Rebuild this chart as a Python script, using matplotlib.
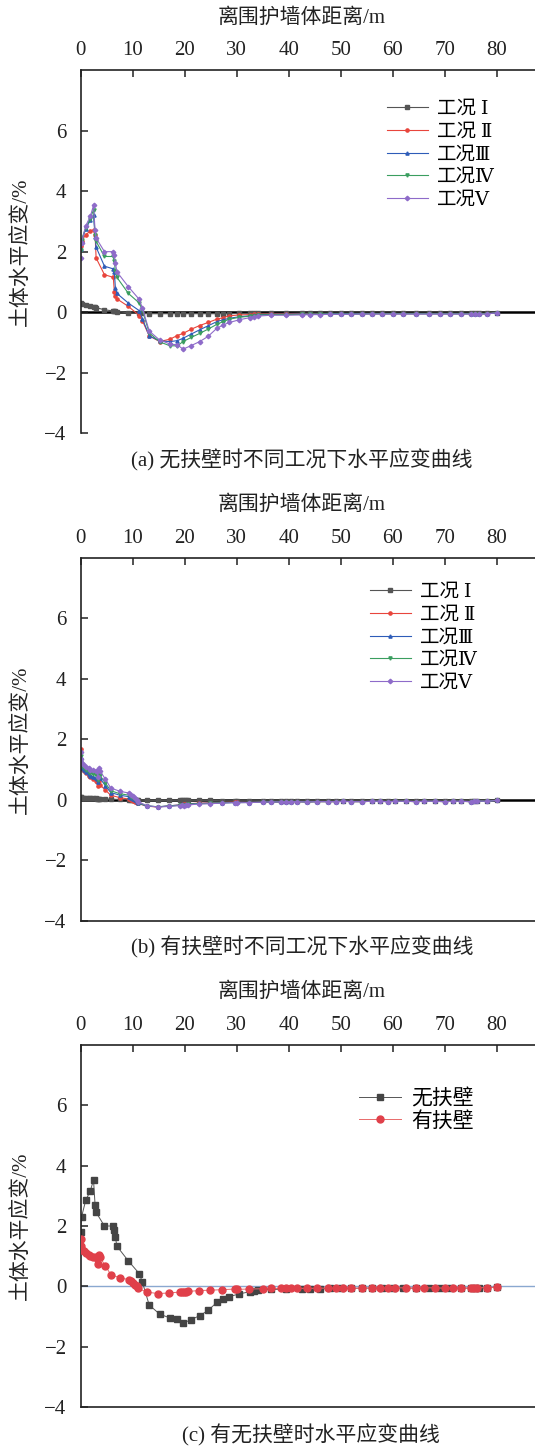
import numpy as np
import matplotlib
matplotlib.use('Agg')
import matplotlib.pyplot as plt

plt.rcParams['font.family'] = ['Liberation Serif', 'Noto Sans CJK SC', 'DejaVu Sans']
plt.rcParams['axes.unicode_minus'] = True

# 无扶壁 (a) 节点距离与各工况水平应变
xa = [0, 0.2, 1.0, 1.9, 2.5, 2.8, 3.0, 4.6, 6.3, 6.5, 6.7, 7.0, 9.2, 11.3, 11.9, 13.2, 15.2, 17.2,
      18.6, 19.7, 21.3, 22.9, 24.5, 26.2, 27.4, 28.6, 30.5, 32.5, 33.3, 34.0, 36.5, 39.5, 42.5,
      44.0, 46.0, 48.0, 50.0, 52.0, 54.0, 56.0, 58.0, 60.0, 62.0, 64.5, 67.0, 69.0, 71.0, 73.0,
      75.0, 75.8, 76.5, 78.0, 80.0]
a1 = [0.30, 0.28, 0.24, 0.20, 0.17, 0.16, 0.15, 0.08, 0.04, 0.03, 0.03, 0.02, -0.02, -0.04, -0.04,
      -0.05, -0.05, -0.05, -0.05, -0.05, -0.05, -0.05, -0.05, -0.05, -0.05, -0.05, -0.04, -0.04,
      -0.04, -0.04, -0.04, -0.04, -0.03, -0.03, -0.03, -0.03, -0.03, -0.03, -0.03, -0.03, -0.03,
      -0.03, -0.03, -0.03, -0.03, -0.03, -0.03, -0.03, -0.03, -0.03, -0.03, -0.03, -0.02]
a2 = [2.20, 2.35, 2.56, 2.68, 2.72, 2.55, 1.79, 1.24, 1.15, 0.68, 0.52, 0.44, 0.19, -0.11, -0.29,
      -0.78, -0.97, -0.89, -0.77, -0.70, -0.56, -0.44, -0.34, -0.23, -0.18, -0.12, -0.09, -0.08,
      -0.07, -0.07, -0.06, -0.06, -0.05, -0.05, -0.05, -0.05, -0.05, -0.05, -0.05, -0.05, -0.05,
      -0.05, -0.05, -0.05, -0.05, -0.05, -0.05, -0.05, -0.05, -0.05, -0.05, -0.05, -0.02]
a3 = [2.10, 2.35, 2.75, 3.05, 3.20, 2.50, 2.15, 1.52, 1.43, 1.32, 0.80, 0.62, 0.30, 0.05, -0.22,
      -0.78, -0.95, -0.97, -0.94, -0.86, -0.72, -0.58, -0.45, -0.31, -0.25, -0.20, -0.15, -0.12,
      -0.10, -0.09, -0.07, -0.07, -0.06, -0.06, -0.06, -0.05, -0.05, -0.05, -0.05, -0.05, -0.05,
      -0.05, -0.05, -0.05, -0.05, -0.05, -0.05, -0.05, -0.05, -0.06, -0.05, -0.05, -0.02]
a4 = [2.05, 2.40, 2.78, 3.09, 3.39, 2.55, 2.34, 1.84, 1.84, 1.68, 1.35, 1.15, 0.62, 0.30, 0.06,
      -0.68, -0.98, -1.11, -1.11, -0.97, -0.83, -0.70, -0.56, -0.40, -0.31, -0.23, -0.17, -0.13,
      -0.11, -0.10, -0.08, -0.08, -0.07, -0.07, -0.06, -0.06, -0.06, -0.06, -0.06, -0.05, -0.05,
      -0.05, -0.05, -0.05, -0.05, -0.05, -0.05, -0.05, -0.05, -0.06, -0.05, -0.05, -0.02]
a5 = [1.80, 2.30, 2.85, 3.17, 3.53, 2.70, 2.45, 2.00, 2.00, 1.88, 1.62, 1.33, 0.84, 0.42, 0.13,
      -0.62, -0.92, -1.05, -1.08, -1.22, -1.10, -0.97, -0.80, -0.53, -0.42, -0.34, -0.25, -0.18,
      -0.15, -0.13, -0.10, -0.10, -0.09, -0.08, -0.08, -0.07, -0.07, -0.07, -0.06, -0.06, -0.06,
      -0.06, -0.06, -0.06, -0.06, -0.06, -0.06, -0.06, -0.06, -0.07, -0.06, -0.06, -0.02]

# 有扶壁 (b)
xb = [0, 0.1, 0.3, 0.6, 1.1, 1.6, 1.9, 2.4, 2.9, 3.2, 3.3, 3.5, 3.7, 4.8, 5.8, 7.6, 9.4, 9.7, 10.1,
      10.5, 10.8, 11.0, 12.7, 14.9, 17.0, 19.1, 19.5, 19.9, 20.3, 20.7, 22.7, 24.8, 27.2, 29.6,
      30.0, 32.4, 35.0, 36.5, 38.5, 39.5, 40.5, 41.5, 43.5, 45.5, 47.5, 49.0, 50.5, 52.0, 54.0,
      56.0, 57.5, 59.0, 60.5, 62.5, 64.5, 66.0, 68.0, 70.0, 71.5, 73.0, 75.0, 75.6, 76.2, 78.0, 80.0]
tail_b = [-0.09, -0.08, -0.07, -0.07, -0.06, -0.06, -0.06, -0.07, -0.06, -0.06,
          -0.06, -0.05, -0.06, -0.06, -0.05, -0.05, -0.06, -0.05, -0.05, -0.06,
          -0.05, -0.05, -0.06, -0.05, -0.05, -0.06, -0.05, -0.04, -0.05, -0.02]
tail_b1 = [-0.03] * 29 + [-0.02]
b1 = [0.08, 0.08, 0.07, 0.07, 0.06, 0.06, 0.05, 0.05, 0.05, 0.04, 0.04, 0.04, 0.04, 0.03, 0.02,
      0.01, 0.00, 0.00, -0.01, -0.01, -0.01, -0.01, -0.02, -0.02, -0.02, -0.02, -0.02, -0.02,
      -0.02, -0.02, -0.02, -0.02, -0.03, -0.03, -0.03] + tail_b1
b2 = [1.68, 1.10, 1.02, 0.95, 0.88, 0.80, 0.74, 0.68, 0.62, 0.58, 0.45, 0.62, 0.50, 0.32, 0.15,
      0.07, 0.02, 0.00, -0.03, -0.06, -0.10, -0.12, -0.21, -0.24, -0.20, -0.17, -0.16, -0.15,
      -0.14, -0.13, -0.11, -0.10, -0.09, -0.08, -0.08] + tail_b
b3 = [1.40, 1.18, 1.05, 0.98, 0.92, 0.85, 0.80, 0.76, 0.73, 0.70, 0.58, 0.80, 0.72, 0.46, 0.24,
      0.15, 0.10, 0.07, 0.03, -0.01, -0.06, -0.10, -0.21, -0.23, -0.20, -0.17, -0.16, -0.16,
      -0.15, -0.14, -0.12, -0.11, -0.10, -0.09, -0.08] + tail_b
b4 = [1.45, 1.25, 1.12, 1.06, 1.00, 0.93, 0.88, 0.85, 0.83, 0.80, 0.65, 0.90, 0.82, 0.55, 0.30,
      0.20, 0.15, 0.10, 0.05, 0.01, -0.04, -0.09, -0.20, -0.23, -0.21, -0.18, -0.17, -0.17,
      -0.16, -0.15, -0.13, -0.12, -0.10, -0.09, -0.09] + tail_b
b5 = [1.57, 1.35, 1.21, 1.16, 1.10, 1.05, 0.99, 0.97, 0.96, 0.94, 0.75, 1.05, 0.96, 0.68, 0.39,
      0.28, 0.22, 0.17, 0.11, 0.06, 0.00, -0.06, -0.19, -0.24, -0.22, -0.19, -0.18, -0.19,
      -0.18, -0.17, -0.14, -0.13, -0.11, -0.09, -0.10] + tail_b

case_labels = ['工况 Ⅰ', '工况 Ⅱ', '工况Ⅲ', '工况Ⅳ', '工况Ⅴ']
case_colors = ['#555555', '#e8453c', '#2e5cb8', '#3a9e5f', '#8e6bc9']
case_markers = ['s', 'o', '^', 'v', 'D']
captions = ['(a) 无扶壁时不同工况下水平应变曲线', '(b) 有扶壁时不同工况下水平应变曲线',
            '(c) 有无扶壁时水平应变曲线']

fig = plt.figure(figsize=(5.35, 14.49), dpi=100)
W, H = 535.0, 1449.0

# 各子图在像素中的位置 (上边框, 下边框)
boxes = [(70, 433.3), (558, 920.7), (1045, 1407)]
label_y = [18, 505, 992]
cap_y = [460, 947, 1435]
cap_x = [302, 302, 311]
x_left = 80.5

# 图例: 罗马数字用衬线字体
legend_font = {'family': ['Liberation Serif', 'DejaVu Serif', 'Noto Sans CJK SC'], 'size': 14}


def style_axes(ax, i, top, bottom, show_bottom):
    ax.set_xlim(0, 87.3)
    ax.set_ylim(-4, 8)
    ax.set_xticks(range(0, 90, 10))
    ax.set_yticks([-4, -2, 0, 2, 4, 6])
    ax.xaxis.tick_top()
    ax.tick_params(axis='x', direction='in', length=5, width=1.1, pad=7, labelsize=15,
                   top=True, bottom=False, colors='#222222', labelcolor='#222222')
    ax.tick_params(axis='y', direction='in', length=5, width=1.1, pad=10, labelsize=15,
                   left=True, right=False, colors='#222222', labelcolor='#222222')
    ax.spines['right'].set_visible(False)
    ax.spines['bottom'].set_visible(show_bottom)
    for s in ['left', 'top', 'bottom']:
        ax.spines[s].set_linewidth(1.2)
        ax.spines[s].set_color('#222222')
    ax.xaxis.set_label_position('top')
    ax.set_xlabel('离围护墙体距离/m', fontsize=15, color='#222222')
    ax.xaxis.label.set_va('center')
    hpx = bottom - top
    wpx = W - x_left
    ax.xaxis.set_label_coords((302 - x_left) / wpx, 1 + (top - label_y[i]) / hpx)
    ax.set_ylabel('土体水平应变/%', fontsize=15, color='#222222')
    ax.yaxis.label.set_va('center')
    ax.yaxis.set_label_coords((21 - x_left) / wpx, 0.5)


axes = []
for i, (top, bottom) in enumerate(boxes):
    ax = fig.add_axes([x_left / W, 1 - bottom / H, 1 - x_left / W, (bottom - top) / H])
    style_axes(ax, i, top, bottom, show_bottom=(i > 0))
    fig.text(cap_x[i] / W, 1 - cap_y[i] / H, captions[i], fontsize=15, ha='center', va='center',
             color='#222222')
    axes.append(ax)

# (a) 无扶壁
ax = axes[0]
ax.axhline(0, color='black', lw=1.8, zorder=1)
for ys, lab, c, m in zip([a1, a2, a3, a4, a5], case_labels, case_colors, case_markers):
    ax.plot(xa, ys, color=c, lw=0.8, marker=m, ms=2.3, label=lab, zorder=2)
ax.legend(loc='upper left', bbox_to_anchor=((387 - x_left) / (W - x_left), 0.916),
          frameon=False, prop=legend_font, handlelength=2.1, handletextpad=0.45,
          labelspacing=0.26, borderpad=0, borderaxespad=0, numpoints=1)

# (b) 有扶壁
ax = axes[1]
ax.axhline(0, color='black', lw=1.8, zorder=1)
for ys, lab, c, m in zip([b1, b2, b3, b4, b5], case_labels, case_colors, case_markers):
    ax.plot(xb, ys, color=c, lw=0.8, marker=m, ms=2.3, label=lab, zorder=2)
ax.legend(loc='upper left', bbox_to_anchor=((370 - x_left) / (W - x_left), 0.930),
          frameon=False, prop=legend_font, handlelength=2.1, handletextpad=0.45,
          labelspacing=0.26, borderpad=0, borderaxespad=0, numpoints=1)

# (c) 对比
ax = axes[2]
ax.axhline(0, color='#8aa8d0', lw=1.0, zorder=1)
ax.plot(xa, a5, color='#555555', lw=0.7, marker='s', ms=4.5, mfc='#444444', mec='#444444',
        label='无扶壁', zorder=2)
ax.plot(xb, b5, color='#e86a6a', lw=0.7, marker='o', ms=5, mfc='#e0404a', mec='#e0404a',
        label='有扶壁', zorder=3)
ax.legend(loc='upper left', bbox_to_anchor=((359 - x_left) / (W - x_left), 0.878),
          frameon=False, fontsize=15, handlelength=2.0, handletextpad=0.5,
          labelspacing=0.1, borderpad=0, borderaxespad=0, numpoints=1)

fig.savefig('out.png', dpi=100)
